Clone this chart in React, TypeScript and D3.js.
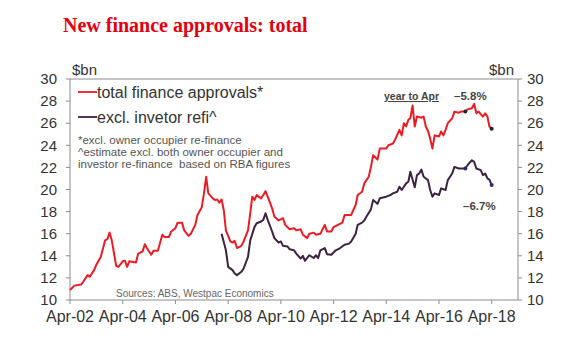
import React from 'react';
import * as d3 from 'd3';

// total finance approvals* ($bn)
const totalDates = [
  '2002-04', '2002-06', '2002-09', '2002-10', '2002-12', '2003-01', '2003-03', '2003-04', '2003-06', '2003-08',
  '2003-09', '2003-10', '2003-11', '2003-12', '2004-01', '2004-02', '2004-04', '2004-05', '2004-06', '2004-07',
  '2004-10', '2004-11', '2005-01', '2005-02', '2005-03', '2005-05', '2005-06', '2005-08', '2005-10', '2005-11',
  '2006-01', '2006-02', '2006-04', '2006-05', '2006-07', '2006-08', '2006-10', '2006-11', '2007-01', '2007-02',
  '2007-04', '2007-05', '2007-06', '2007-07', '2007-09', '2007-10', '2007-11', '2007-12', '2008-01', '2008-02',
  '2008-03', '2008-05', '2008-06', '2008-07', '2008-08', '2008-10', '2008-11', '2009-01', '2009-02', '2009-03',
  '2009-04', '2009-05', '2009-07', '2009-08', '2009-09', '2009-10', '2009-12', '2010-01', '2010-03', '2010-05',
  '2010-06', '2010-08', '2010-10', '2010-11', '2011-01', '2011-02', '2011-04', '2011-05', '2011-07', '2011-08',
  '2011-10', '2011-12', '2012-01', '2012-03', '2012-04', '2012-06', '2012-08', '2012-09', '2012-12', '2013-02',
  '2013-03', '2013-05', '2013-06', '2013-08', '2013-09', '2013-10', '2013-12', '2014-01', '2014-04', '2014-05',
  '2014-07', '2014-08', '2014-10', '2014-11', '2014-12', '2015-01', '2015-02', '2015-03', '2015-04', '2015-05',
  '2015-06', '2015-08', '2015-09', '2015-10', '2015-11', '2015-12', '2016-01', '2016-02', '2016-04', '2016-05',
  '2016-06', '2016-07', '2016-08', '2016-10', '2016-11', '2017-01', '2017-02', '2017-04', '2017-05', '2017-07',
  '2017-08', '2017-09', '2017-10', '2017-12', '2018-01', '2018-02', '2018-03', '2018-04',
];
const totalValues = [
  10.9, 11.3, 11.4, 11.65, 12.25, 12.1, 12.7, 13.2, 13.9, 15.4,
  15.5, 16.1, 15.4, 14.25, 13.1, 13.0, 13.5, 13.55, 13.0, 13.5,
  13.4, 14.2, 14.4, 15.05, 14.7, 14.1, 14.45, 14.45, 15.9, 15.7,
  15.7, 16.2, 16.5, 17.0, 17.0, 16.3, 15.8, 16.0, 16.8, 17.7,
  18.4, 19.6, 21.15, 19.65, 19.2, 19.05, 19.1, 18.8, 19.1, 18.1,
  16.3, 15.3, 15.2, 15.35, 14.7, 14.9, 15.3, 16.3, 17.85, 19.35,
  19.05, 19.5, 19.2, 19.5, 19.85, 19.35, 18.3, 17.55, 17.2, 17.4,
  16.8, 16.4, 16.5, 16.3, 16.4, 15.9, 15.6, 16.0, 16.1, 15.9,
  16.0, 16.8, 16.2, 16.2, 16.6, 16.8, 17.0, 17.7, 17.7, 18.6,
  19.5, 19.8, 20.55, 21.15, 22.05, 23.1, 22.7, 23.7, 23.7, 24.0,
  24.15, 24.5, 25.4, 24.9, 26.0, 25.7, 26.3, 26.45, 27.6, 25.7,
  26.6, 26.5, 26.6, 25.7, 25.3, 24.6, 23.7, 24.9, 24.8, 25.25,
  24.9, 25.4, 26.0, 26.45, 27.05, 26.95, 27.05, 27.05, 27.25, 27.35,
  27.75, 26.9, 27.05, 26.6, 26.9, 26.6, 25.7, 25.5,
];

// excl. investor refi^ ($bn)
const exclDates = [
  '2008-01', '2008-03', '2008-04', '2008-06', '2008-07', '2008-08', '2008-10', '2008-11', '2009-01', '2009-02',
  '2009-04', '2009-05', '2009-07', '2009-08', '2009-09', '2009-10', '2009-12', '2010-01', '2010-03', '2010-04',
  '2010-05', '2010-07', '2010-08', '2010-10', '2010-11', '2011-01', '2011-02', '2011-03', '2011-05', '2011-07',
  '2011-08', '2011-09', '2011-10', '2011-12', '2012-01', '2012-03', '2012-05', '2012-07', '2012-09', '2012-11',
  '2012-12', '2013-02', '2013-03', '2013-05', '2013-06', '2013-07', '2013-09', '2013-10', '2013-12', '2014-01',
  '2014-04', '2014-06', '2014-07', '2014-09', '2014-10', '2014-11', '2015-01', '2015-02', '2015-03', '2015-05',
  '2015-06', '2015-07', '2015-08', '2015-09', '2015-11', '2015-12', '2016-01', '2016-02', '2016-04', '2016-05',
  '2016-07', '2016-08', '2016-10', '2016-11', '2017-01', '2017-02', '2017-04', '2017-05', '2017-07', '2017-08',
  '2017-09', '2017-11', '2017-12', '2018-01', '2018-02', '2018-03', '2018-04',
];
const exclValues = [
  16.0, 14.5, 13.0, 12.7, 12.4, 12.25, 12.55, 12.85, 13.9, 15.4,
  16.6, 16.95, 17.1, 17.25, 17.85, 17.25, 16.2, 15.6, 15.2, 15.3,
  14.9, 14.85, 14.6, 14.5, 14.2, 13.75, 14.0, 13.55, 14.05, 13.8,
  14.05, 13.8, 14.5, 14.7, 14.15, 14.1, 14.5, 14.7, 15.0, 15.1,
  15.3, 16.0, 16.8, 17.0, 17.2, 17.55, 18.2, 19.05, 18.7, 19.2,
  19.35, 19.5, 19.65, 19.8, 20.25, 19.95, 20.55, 20.7, 21.6, 20.2,
  21.3, 21.45, 21.8, 21.15, 20.85, 19.95, 19.35, 19.65, 19.5, 20.1,
  19.95, 20.85, 21.45, 22.05, 21.9, 21.9, 21.9, 22.2, 22.65, 22.5,
  21.9, 21.75, 21.3, 21.45, 21.0, 20.9, 20.4,
];

const markerDates = ['2017-04', '2018-04'];
const yTicks = [10, 12, 14, 16, 18, 20, 22, 24, 26, 28, 30];
const xTickDates = ['2002-04', '2004-04', '2006-04', '2008-04', '2010-04', '2012-04', '2014-04', '2016-04', '2018-04'];

const W = 580;
const H = 352;
const margin = { top: 79, right: 62, bottom: 52, left: 70 };
const RED = '#ec1c24';
const DARK = '#3d2241';
const AXIS = '#8c8c8c';
const SANS = 'Liberation Sans, Arial, sans-serif';

const parse = d3.timeParse('%Y-%m');
const fmt = d3.timeFormat('%Y-%m');

export default function App() {
  const pw = W - margin.left - margin.right;
  const ph = H - margin.top - margin.bottom;

  const x = d3.scaleTime()
    .domain([parse('2002-04'), parse('2019-04')])
    .range([0, pw]);
  const y = d3.scaleLinear().domain([10, 30]).range([ph, 0]);

  const total = totalDates.map((d, i) => ({ date: parse(d), v: totalValues[i] }));
  const excl = exclDates.map((d, i) => ({ date: parse(d), v: exclValues[i] }));

  const line = d3.line().x(d => x(d.date)).y(d => y(d.v));

  const totalMarks = total.filter(d => markerDates.includes(fmt(d.date)));
  const exclMarks = excl.filter(d => markerDates.includes(fmt(d.date)));

  return (
    <svg width={W} height={H} style={{ position: 'absolute', left: 0, top: 0, background: '#fff' }}>
      <text x={63} y={32} fill="#e3000f" fontFamily="Liberation Serif, Times New Roman, serif"
        fontWeight="bold" fontSize={20}>New finance approvals: total</text>

      <g transform={`translate(${margin.left},${margin.top})`} fontFamily={SANS}>
        {/* frame */}
        <line x1={0} x2={pw} y1={0} y2={0} stroke={AXIS} />
        <line x1={0} x2={0} y1={0} y2={ph} stroke={AXIS} />
        <line x1={pw} x2={pw} y1={0} y2={ph} stroke={AXIS} />
        <line x1={0} x2={pw} y1={ph} y2={ph} stroke={AXIS} />

        {/* y axes */}
        {yTicks.map(t => (
          <g key={t}>
            <line x1={-4} x2={0} y1={y(t)} y2={y(t)} stroke={AXIS} />
            <line x1={pw} x2={pw + 4} y1={y(t)} y2={y(t)} stroke={AXIS} />
            <text x={-13} y={y(t)} dy="0.35em" textAnchor="end" fontSize={15} fill="#333">{t}</text>
            <text x={pw + 9} y={y(t)} dy="0.35em" fontSize={15} fill="#333">{t}</text>
          </g>
        ))}
        <text x={2} y={-4} fontSize={15} fill="#333">$bn</text>
        <text x={pw - 4} y={-4} fontSize={15} fill="#333" textAnchor="end">$bn</text>

        {/* x axis */}
        {xTickDates.map(d => (
          <g key={d} transform={`translate(${x(parse(d))},${ph})`}>
            <line y1={0} y2={4} stroke={AXIS} />
            <text y={22} textAnchor="middle" fontSize={16} fill="#333">{d3.timeFormat('Apr-%y')(parse(d))}</text>
          </g>
        ))}

        {/* series */}
        <path d={line(total)} fill="none" stroke={RED} strokeWidth={2} strokeLinejoin="round" />
        <path d={line(excl)} fill="none" stroke={DARK} strokeWidth={2} strokeLinejoin="round" />
        {totalMarks.map((d, i) => (
          <circle key={'t' + i} cx={x(d.date)} cy={y(d.v)} r={2} fill="#222" />
        ))}
        {exclMarks.map((d, i) => (
          <circle key={'e' + i} cx={x(d.date)} cy={y(d.v)} r={2} fill="#2a2a6a" />
        ))}

        {/* legend */}
        <line x1={8} x2={27} y1={13} y2={13} stroke={RED} strokeWidth={1.8} />
        <text x={27} y={13} dy="0.35em" fontSize={16} fill="#333">total finance approvals*</text>
        <line x1={8} x2={27} y1={38} y2={38} stroke={DARK} strokeWidth={1.8} />
        <text x={27} y={38} dy="0.35em" fontSize={16} fill="#333">excl. invetor refi^</text>

        <g fontSize={11.5} fill="#555">
          <text x={8} y={65}>*excl. owner occupier re-finance</text>
          <text x={8} y={77}>^estimate excl. both owner occupier and</text>
          <text x={8} y={89} xmlSpace="preserve">{'investor re-finance  based on RBA figures'}</text>
        </g>

        <text x={314} y={21} fontSize={10.5} fontWeight="bold" fill="#444" textDecoration="underline">year to Apr</text>
        <text x={384} y={21} fontSize={11.5} fontWeight="bold" fill="#444">–5.8%</text>
        <text x={393} y={131} fontSize={11.5} fontWeight="bold" fill="#444">–6.7%</text>

        <text x={46} y={ph - 3} fontSize={10} fill="#666">Sources: ABS, Westpac Economics</text>
      </g>
    </svg>
  );
}
